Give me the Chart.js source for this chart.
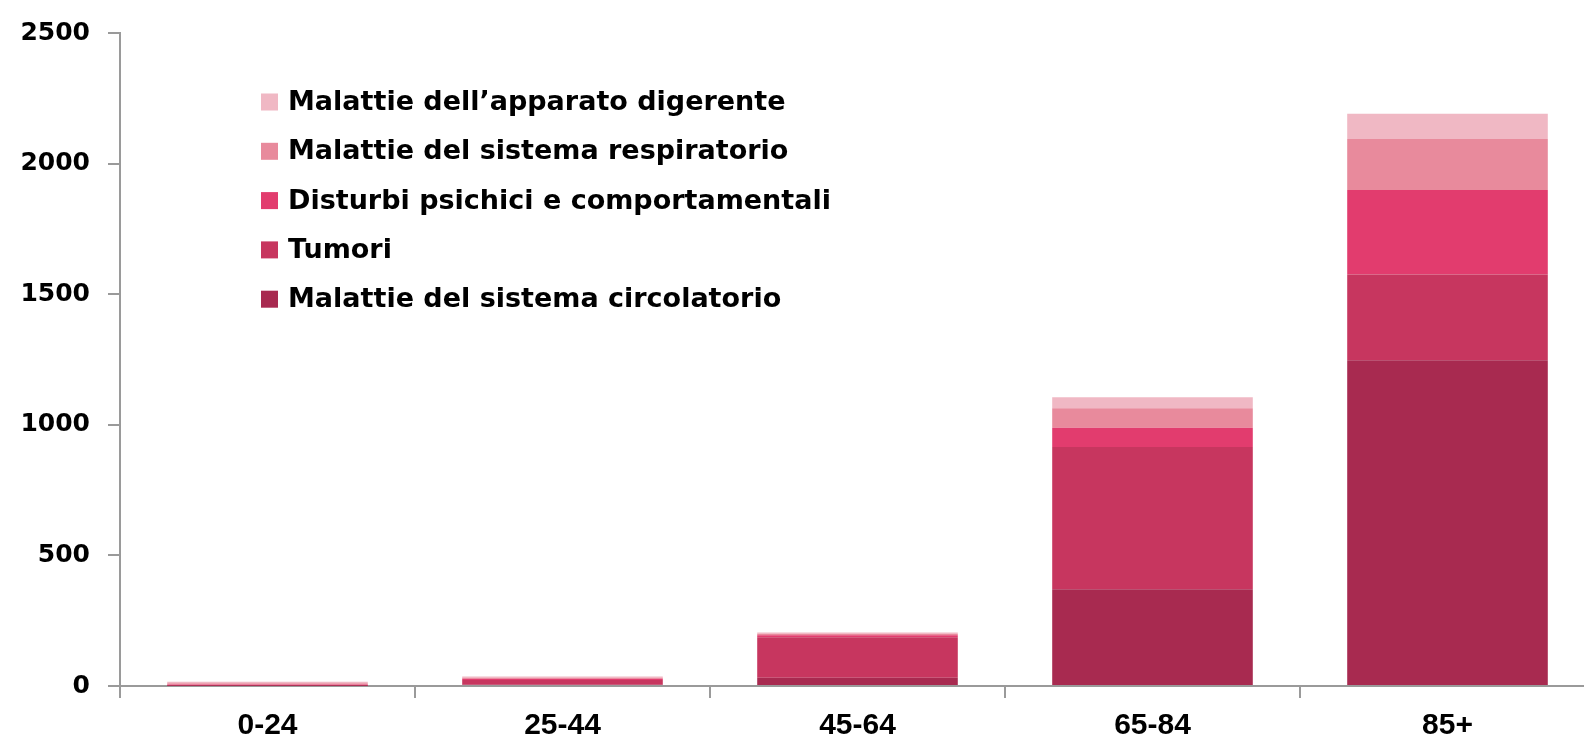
<!DOCTYPE html>
<html>
<head>
<meta charset="utf-8">
<script src="https://cdn.jsdelivr.net/npm/chart.js@4.4.1/dist/chart.umd.min.js"></script>
<style>
  html, body { margin: 0; padding: 0; background: #fff; overflow: hidden; }
  #wrap { position: absolute; left: 0; top: 0; width: 1600px; height: 741px; }
</style>
</head>
<body>
<div id="wrap"><canvas id="c" width="1600" height="741"></canvas></div>
<script>
// ---- Data ----
const categories = ['0-24', '25-44', '45-64', '65-84', '85+'];
const circolatorio = [1, 5, 32, 370, 1247];
const tumori       = [3, 18, 155, 545, 328];
const disturbi     = [2, 5, 7, 74, 324];
const respiratorio = [5, 4, 6, 74, 195];
const digerente    = [5, 4, 5, 42, 97];
const seriesNames = [
  'Malattie del sistema circolatorio',
  'Tumori',
  'Disturbi psichici e comportamentali',
  'Malattie del sistema respiratorio',
  'Malattie dell\u2019apparato digerente'
];
const seriesColors = ['#A82A50', '#C7365F', '#E23C6E', '#E88A9C', '#F0B8C4'];
const yTicks = [0, 500, 1000, 1500, 2000, 2500];

const seriesValues = [circolatorio, tumori, disturbi, respiratorio, digerente];
const datasets = seriesValues.map((vals, i) => ({
  label: seriesNames[i],
  data: vals,
  backgroundColor: seriesColors[i],
  borderWidth: 0,
  categoryPercentage: 1.0,
  barPercentage: 0.68
}));

const axisColor = '#9a9a9a';

// Custom legend drawn inside the chart area (reverse order, top = last series)
const innerLegend = {
  id: 'innerLegend',
  afterDraw(chart) {
    const ctx = chart.ctx;
    const ds = chart.data.datasets;
    const x0 = 261, y0 = 102, gap = 49.3, box = 17;
    ctx.save();
    ctx.font = 'bold 27px "DejaVu Sans"';
    ctx.textBaseline = 'middle';
    ctx.textAlign = 'left';
    for (let k = 0; k < ds.length; k++) {
      const d = ds[ds.length - 1 - k];
      const y = y0 + k * gap;
      ctx.fillStyle = d.backgroundColor;
      ctx.fillRect(x0, y - box / 2, box, box);
      ctx.fillStyle = '#000';
      ctx.fillText(d.label, x0 + 27, y + 1);
    }
    ctx.restore();
  }
};

new Chart(document.getElementById('c'), {
  type: 'bar',
  data: { labels: categories, datasets: datasets },
  options: {
    responsive: false,
    animation: false,
    layout: { padding: { top: 30, right: 5, left: 0, bottom: 0 } },
    plugins: { legend: { display: false }, tooltip: { enabled: false } },
    scales: {
      x: {
        stacked: true,
        grid: { display: true, offset: true, drawOnChartArea: false, drawTicks: true, tickLength: 12, color: axisColor, lineWidth: 2 },
        border: { display: true, color: axisColor, width: 2 },
        ticks: { color: '#000', font: { family: '"Liberation Sans Narrow", "Liberation Sans"', weight: 'bold', size: 30 }, padding: 10, maxRotation: 0 },
        afterFit(s) { s.height = 55; }
      },
      y: {
        stacked: true,
        min: 0, max: 2500,
        afterBuildTicks(s) { s.ticks = yTicks.map(v => ({ value: v })); },
        grid: { display: true, drawOnChartArea: false, drawTicks: true, tickLength: 12, color: axisColor, lineWidth: 2 },
        border: { display: true, color: axisColor, width: 2 },
        ticks: { color: '#000', font: { family: '"DejaVu Sans"', weight: 'bold', size: 25 }, padding: 18, callback: v => String(v) },
        afterFit(s) { s.width = 120; }
      }
    }
  },
  plugins: [innerLegend]
});
</script>
</body>
</html>
